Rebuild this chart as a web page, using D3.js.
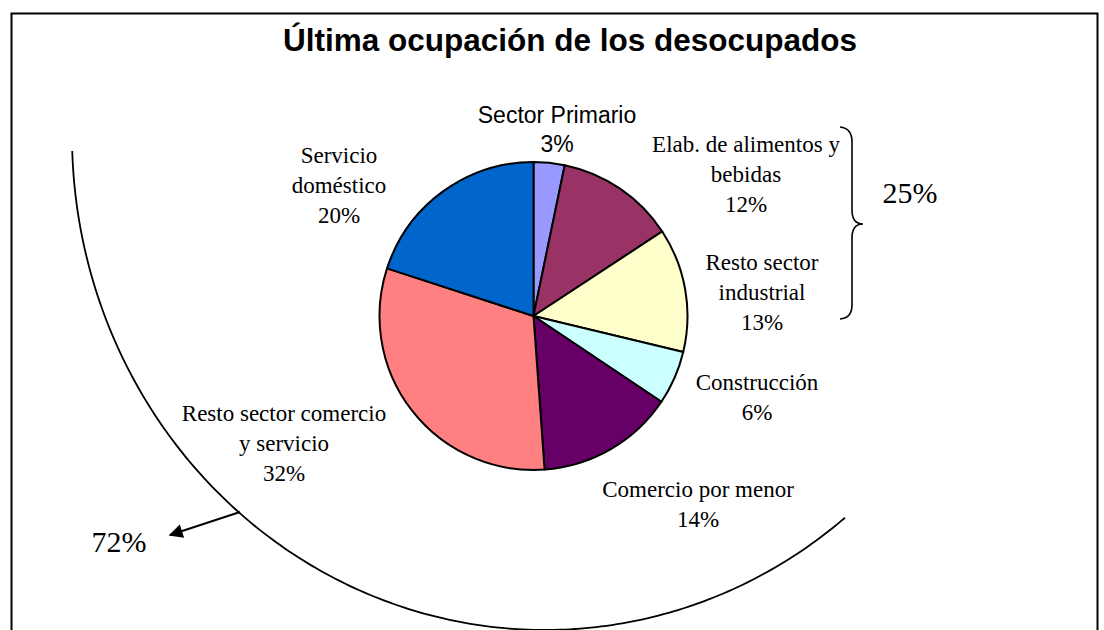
<!DOCTYPE html>
<html>
<head>
<meta charset="utf-8">
<script src="https://cdn.jsdelivr.net/npm/d3@7"></script>
<style>
  body { margin: 0; background: #fff; }
</style>
</head>
<body>
<div id="chart"></div>
<script>
const width = 1104,
height = 630;

// slices clockwise from 12 o'clock
const categories = ['Sector Primario', 'Elab. de alimentos y bebidas', 'Resto sector industrial', 'Construcción', 'Comercio por menor', 'Resto sector comercio y servicio', 'Servicio doméstico'];
const shares = [3.25, 12.5, 13.0, 5.65, 14.45, 31.15, 20.0];
const pctLabels = ['3%', '12%', '13%', '6%', '14%', '32%', '20%'];
const labelLines = [['Sector Primario'], ['Elab. de alimentos y', 'bebidas'], ['Resto sector', 'industrial'], ['Construcción'], ['Comercio por menor'], ['Resto sector comercio', 'y servicio'], ['Servicio', 'doméstico']];
const colors = ['#9999FF', '#993366', '#FFFFCC', '#CCFFFF', '#660066', '#FF8080', '#0066CC'];
const groupLabels = ['25%', '72%'];

// layout
const center = { x: 533.5, y: 316 },
radius = 154;
const labelAt = [[557, 123], [746, 152], [762, 270], [757, 390], [698, 497], [284, 421], [339, 163]];

const svg = d3.select('#chart').
append('svg').
attr('width', width).
attr('height', height);

svg.append('rect').
attr('x', 11.5).
attr('y', 13.5).
attr('width', 1086).
attr('height', 650).
attr('fill', 'none').
attr('stroke', '#000').
attr('stroke-width', 2);

svg.append('text').
text('Última ocupación de los desocupados').
attr('x', 570).
attr('y', 51).
attr('text-anchor', 'middle').
style('font-family', '"Liberation Sans", Arial, sans-serif').
style('font-weight', 'bold').
style('font-size', '31.5px');

const color = d3.scaleOrdinal().domain(categories).range(colors);

const pie = d3.pie().sort(null).value(d => d.value);
const arc = d3.arc().innerRadius(0).outerRadius(radius);

const slices = pie(categories.map((c, i) => ({ name: c, value: shares[i], idx: i })));

svg.append('g').
attr('transform', `translate(${center.x},${center.y})`).
selectAll('path').
data(slices).
enter().
append('path').
attr('d', arc).
attr('fill', d => color(d.data.name)).
attr('stroke', '#000').
attr('stroke-width', 2).
attr('stroke-linejoin', 'round');

// slice labels
const labels = svg.append('g').
selectAll('text').
data(slices).
enter().
append('text').
attr('text-anchor', 'middle').
style('font-family', d => d.data.idx === 0 ? '"Liberation Sans", Arial, sans-serif' : '"Liberation Serif", "Times New Roman", serif').
style('font-size', '23px').
style('fill', '#000');

labels.selectAll('tspan').
data(d => labelLines[d.data.idx].concat(pctLabels[d.data.idx]).map((t, j) => ({ t, j, i: d.data.idx }))).
enter().
append('tspan').
attr('x', d => labelAt[d.i][0]).
attr('y', d => labelAt[d.i][1] + d.j * (d.i === 0 ? 29 : 30)).
text(d => d.t);

// big enclosing arc (the 72% group)
const ring = { cx: 545, cy: 135, rx: 473, ry: 495 };
const t0 = Math.asin((151 - ring.cy) / ring.ry),
t1 = Math.acos((845 - ring.cx) / ring.rx);
const ringPts = d3.range(0, 201).map(k => {
  const a = Math.PI - t0 - (Math.PI - t0 - t1) * k / 200;
  return [ring.cx + ring.rx * Math.cos(a), ring.cy + ring.ry * Math.sin(a)];
});
svg.append('path').
attr('d', d3.line()(ringPts)).
attr('fill', 'none').
attr('stroke', '#000').
attr('stroke-width', 1.8);

svg.append('defs').
append('marker').
attr('id', 'head').
attr('viewBox', '0 0 10 10').
attr('refX', 9).
attr('refY', 5).
attr('markerWidth', 8).
attr('markerHeight', 7).
attr('markerUnits', 'strokeWidth').
attr('orient', 'auto').
append('path').
attr('d', 'M0,0 L10,5 L0,10 z').
attr('fill', '#000');

svg.append('line').
attr('x1', 240).
attr('y1', 512).
attr('x2', 170).
attr('y2', 535).
attr('stroke', '#000').
attr('stroke-width', 2).
attr('marker-end', 'url(#head)');

// brace for the industrial group
const brace = d3.path();
brace.moveTo(840, 127);
brace.quadraticCurveTo(852, 128, 852, 142);
brace.lineTo(852, 210);
brace.quadraticCurveTo(852, 224, 863, 224);
brace.quadraticCurveTo(852, 224, 852, 238);
brace.lineTo(852, 305);
brace.quadraticCurveTo(852, 318, 840, 319);
svg.append('path').
attr('d', brace.toString()).
attr('fill', 'none').
attr('stroke', '#000').
attr('stroke-width', 1.6);

svg.selectAll('.group-label').
data(groupLabels).
enter().
append('text').
attr('class', 'group-label').
attr('x', (d, i) => i === 0 ? 910 : 119).
attr('y', (d, i) => i === 0 ? 203 : 552).
attr('text-anchor', 'middle').
style('font-family', '"Liberation Serif", "Times New Roman", serif').
style('font-size', '30px').
text(d => d);
</script>
</body>
</html>
